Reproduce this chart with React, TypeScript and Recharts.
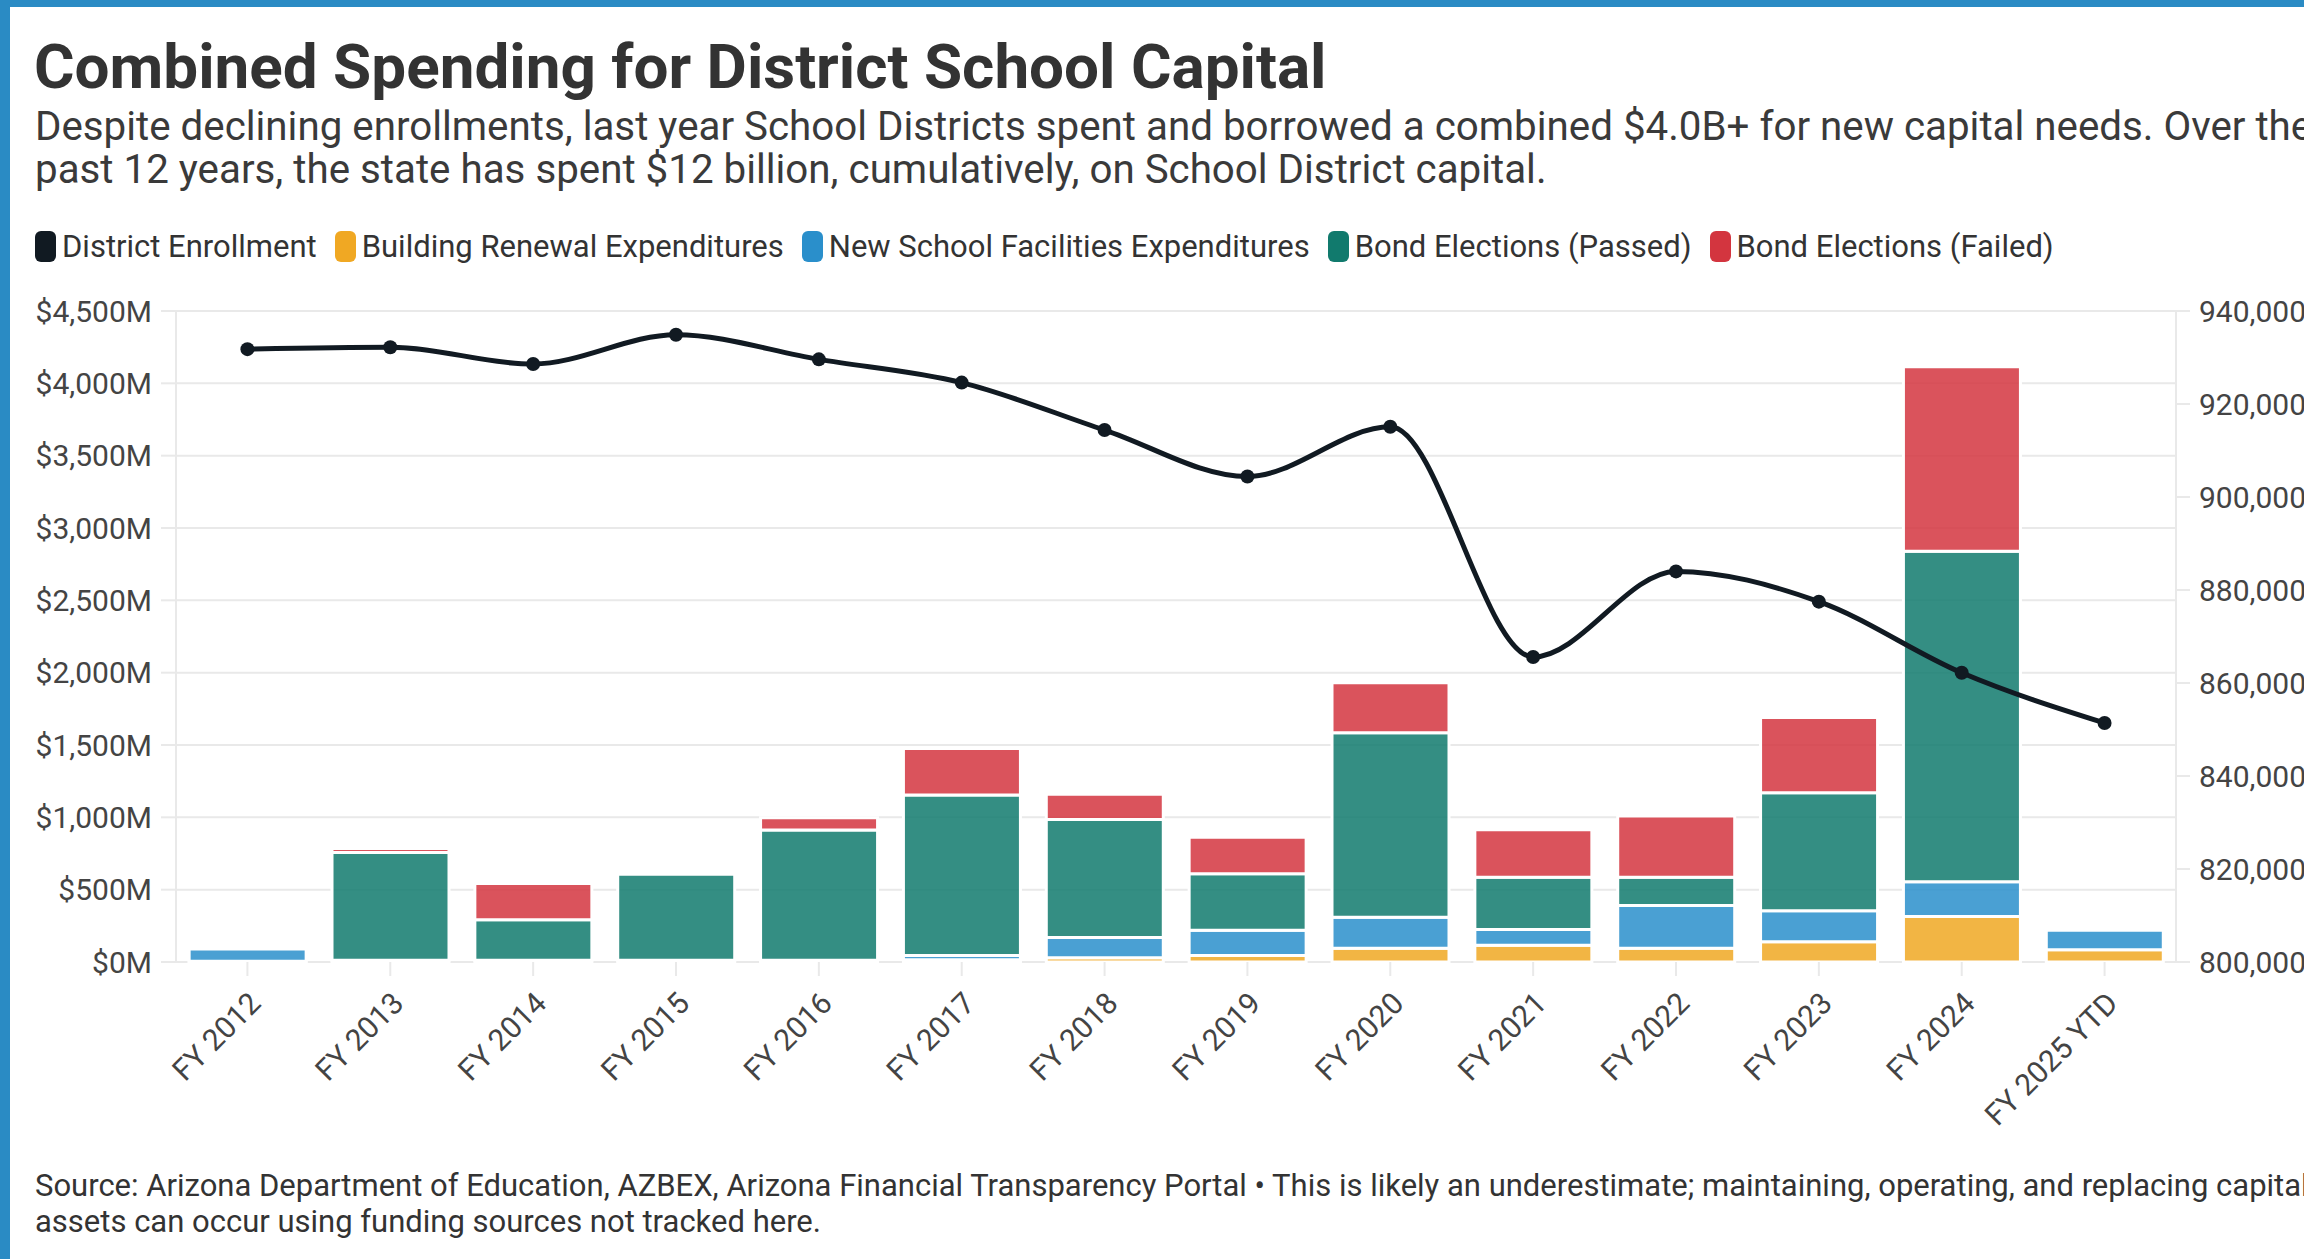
import React from "react"
import { Bar, CartesianGrid, ComposedChart, Line, XAxis, YAxis } from "recharts"

const years = [
  "FY 2012", "FY 2013", "FY 2014", "FY 2015", "FY 2016", "FY 2017", "FY 2018",
  "FY 2019", "FY 2020", "FY 2021", "FY 2022", "FY 2023", "FY 2024", "FY 2025 YTD",
]

// $M
const buildingRenewal = [5, 12, 12, 12, 12, 15, 30, 45, 95, 115, 95, 140, 315, 85]
const newSchoolFacilities = [85, 0, 0, 0, 0, 30, 140, 175, 215, 110, 295, 215, 240, 135]
const bondPassed = [0, 745, 280, 595, 900, 1110, 815, 390, 1275, 360, 195, 815, 2285, 0]
const bondFailed = [0, 28, 250, 0, 85, 320, 175, 253, 345, 330, 425, 520, 1275, 0]

// students, right axis
const enrollment = [
  931800, 932200, 928600, 934900, 929600, 924600, 914400,
  904400, 915100, 865600, 884000, 877500, 862200, 851400,
]

const leftTicks = [0, 500, 1000, 1500, 2000, 2500, 3000, 3500, 4000, 4500]
const rightTicks = [800000, 820000, 840000, 860000, 880000, 900000, 920000, 940000]

const series = [
  { key: "enrollment", name: "District Enrollment", color: "#111a22" },
  { key: "renewal", name: "Building Renewal Expenditures", color: "#f0a823" },
  { key: "newSchool", name: "New School Facilities Expenditures", color: "#2a8fcb" },
  { key: "passed", name: "Bond Elections (Passed)", color: "#117a6d" },
  { key: "failed", name: "Bond Elections (Failed)", color: "#d3353f" },
]

const data = years.map((year, i) => ({
  year,
  renewal: buildingRenewal[i],
  newSchool: newSchoolFacilities[i],
  passed: bondPassed[i],
  failed: bondFailed[i],
  enrollment: enrollment[i],
}))

const FONT = "Roboto, 'Noto Sans', sans-serif"
const GRID = "#e9e9e9"

function XTick({ x, y, payload }: any) {
  return (
    <g transform={`translate(${x},${y})`}>
      <text
        transform="rotate(-45)"
        textAnchor="end"
        dy="0.71em"
        fontSize={30}
        fontFamily={FONT}
        fill="#444"
      >
        {payload.value}
      </text>
    </g>
  )
}

export default function App() {
  const color = (k: string) => series.find((s) => s.key === k)!.color
  return (
    <div
      style={{
        position: "absolute",
        left: 0,
        top: 0,
        width: 2304,
        height: 1259,
        overflow: "hidden",
        background: "#fff",
        fontFamily: FONT,
        color: "#333",
      }}
    >
      <div style={{ position: "absolute", left: 0, top: 0, width: 10, height: 1259, background: "#2a8bc4" }} />
      <div style={{ position: "absolute", left: 0, top: 0, width: 2304, height: 7, background: "#2a8bc4" }} />

      <div
        style={{
          position: "absolute",
          left: 34,
          top: 31,
          fontSize: 62,
          fontWeight: 700,
          lineHeight: "72px",
          whiteSpace: "nowrap",
          color: "#333",
        }}
      >
        Combined Spending for District School Capital
      </div>
      <div
        style={{
          position: "absolute",
          left: 35,
          top: 105,
          fontSize: 40.3,
          lineHeight: "43.3px",
          whiteSpace: "nowrap",
          color: "#3a3a3a",
        }}
      >
        Despite declining enrollments, last year School Districts spent and borrowed a combined $4.0B+ for new capital needs. Over the
        <br />
        past 12 years, the state has spent $12 billion, cumulatively, on School District capital.
      </div>

      <div style={{ position: "absolute", left: 35, top: 231, display: "flex", alignItems: "center", whiteSpace: "nowrap" }}>
        {series.map((s) => (
          <div key={s.key} style={{ display: "flex", alignItems: "center", marginRight: 18 }}>
            <div style={{ width: 21, height: 31, borderRadius: 6, background: s.color, marginRight: 6 }} />
            <span style={{ fontSize: 31, lineHeight: "31px", color: "#333" }}>{s.name}</span>
          </div>
        ))}
      </div>

      <div style={{ position: "absolute", left: 0, top: 0 }}>
        <ComposedChart
          width={2400}
          height={1259}
          data={data}
          margin={{ top: 311, right: 0, bottom: 147, left: 0 }}
          barCategoryGap="9.2%"
        >
          <CartesianGrid yAxisId="left" vertical={false} stroke={GRID} strokeWidth={2} />
          <XAxis
            dataKey="year"
            interval={0}
            height={150}
            axisLine={false}
            tickLine={{ stroke: GRID, strokeWidth: 2 }}
            tickSize={14}
            tickMargin={14}
            tick={<XTick />}
          />
          <YAxis
            yAxisId="left"
            width={176}
            domain={[0, 4500]}
            ticks={leftTicks}
            interval={0}
            axisLine={{ stroke: GRID, strokeWidth: 2 }}
            tickLine={{ stroke: GRID, strokeWidth: 2 }}
            tickSize={15}
            tickMargin={9}
            tickFormatter={(v: number) => `$${v.toLocaleString("en-US")}M`}
            tick={{ fontSize: 30, fontFamily: FONT, fill: "#444" }}
          />
          <YAxis
            yAxisId="right"
            orientation="right"
            width={224}
            domain={[800000, 940000]}
            ticks={rightTicks}
            interval={0}
            axisLine={{ stroke: GRID, strokeWidth: 2 }}
            tickLine={{ stroke: GRID, strokeWidth: 2 }}
            tickSize={14}
            tickMargin={9}
            tickFormatter={(v: number) => v.toLocaleString("en-US")}
            tick={{ fontSize: 30, fontFamily: FONT, fill: "#444" }}
          />
          {["renewal", "newSchool", "passed", "failed"].map((k) => (
            <Bar
              key={k}
              yAxisId="left"
              dataKey={k}
              stackId="spend"
              fill={color(k)}
              fillOpacity={0.85}
              stroke="#fff"
              strokeWidth={3}
              isAnimationActive={false}
            />
          ))}
          <Line
            yAxisId="right"
            type="monotone"
            dataKey="enrollment"
            stroke={color("enrollment")}
            strokeWidth={5}
            dot={{ r: 7, fill: color("enrollment"), stroke: "none" }}
            activeDot={false}
            isAnimationActive={false}
          />
        </ComposedChart>
      </div>

      <div
        style={{
          position: "absolute",
          left: 35,
          top: 1168,
          fontSize: 31,
          lineHeight: "36.3px",
          whiteSpace: "nowrap",
          color: "#333",
        }}
      >
        Source: Arizona Department of Education, AZBEX, Arizona Financial Transparency Portal • This is likely an underestimate; maintaining, operating, and replacing capital
        <br />
        assets can occur using funding sources not tracked here.
      </div>
    </div>
  )
}
